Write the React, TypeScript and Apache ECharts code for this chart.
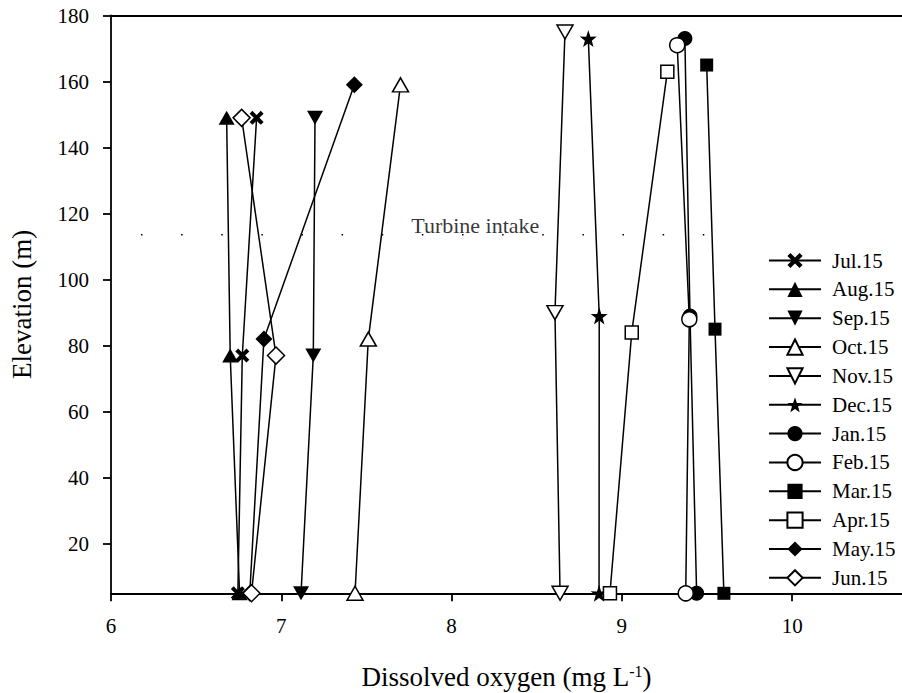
import React, { useEffect, useRef } from "react";
import * as echarts from "echarts";

// ---------- data ----------
const monthNames = ["Jul.15", "Aug.15", "Sep.15", "Oct.15", "Nov.15", "Dec.15", "Jan.15", "Feb.15", "Mar.15", "Apr.15", "May.15", "Jun.15"];
const xTickValues = [6, 7, 8, 9, 10];
const yTickValues = [20, 40, 60, 80, 100, 120, 140, 160, 180];

// [dissolved oxygen, elevation] : top, middle, bottom
const jul15 = [[6.855, 149], [6.771, 77], [6.745, 5]];
const aug15 = [[6.679, 149], [6.7, 77], [6.755, 5]];
const sep15 = [[7.198, 149], [7.188, 77], [7.116, 5]];
const oct15 = [[7.7, 159], [7.511, 82], [7.433, 5]];
const nov15 = [[8.666, 175], [8.607, 90], [8.637, 5]];
const dec15 = [[8.803, 173], [8.867, 89], [8.866, 5]];
const jan15 = [[9.37, 173], [9.4, 89], [9.439, 5]];
const feb15 = [[9.325, 171], [9.396, 88], [9.375, 5]];
const mar15 = [[9.498, 165], [9.547, 85], [9.599, 5]];
const apr15 = [[9.267, 163], [9.058, 84], [8.93, 5]];
const may15 = [[7.429, 159], [6.898, 82], [6.815, 5]];
const jun15 = [[6.767, 149], [6.969, 77], [6.825, 5]];

const turbineIntake = 113.6;
const turbineRange = [6.176, 9.711];
const turbineLabel = "Turbine intake";
const turbineLabelX = 7.766;

const X_MIN = 6;
const X_MAX = 10.645;
const Y_MIN = 5;
const Y_MAX = 180;

// ---------- styles ----------
const FONT = "'Liberation Serif', 'Times New Roman', Times, serif";
const CROSS = "path://M0,2 L2,0 L5,3 L8,0 L10,2 L7,5 L10,8 L8,10 L5,7 L2,10 L0,8 L3,5 Z";
const STAR = "path://M50,0 L61.8,35.3 L97.6,34.5 L69.1,56.2 L79.4,90.5 L50,70 L20.6,90.5 L30.9,56.2 L2.4,34.5 L38.2,35.3 Z";
const TRI_DOWN = "path://M0,0 L10,0 L5,8.66 Z";

const seriesData = [jul15, aug15, sep15, oct15, nov15, dec15, jan15, feb15, mar15, apr15, may15, jun15];
const seriesStyle: { symbol: string; size: number | number[]; filled: boolean }[] = [
  { symbol: CROSS, size: 14, filled: true },
  { symbol: "triangle", size: [16, 14], filled: true },
  { symbol: TRI_DOWN, size: [16, 14], filled: true },
  { symbol: "triangle", size: [16, 14], filled: false },
  { symbol: TRI_DOWN, size: [16, 14], filled: false },
  { symbol: STAR, size: 17, filled: true },
  { symbol: "circle", size: 15, filled: true },
  { symbol: "circle", size: 15, filled: false },
  { symbol: "rect", size: 13, filled: true },
  { symbol: "rect", size: 13, filled: false },
  { symbol: "diamond", size: 17, filled: true },
  { symbol: "diamond", size: 17, filled: false },
];

export default function App() {
  const ref = useRef<HTMLDivElement>(null);
  useEffect(() => {
    if (!ref.current) return;
    const chart = echarts.init(ref.current, undefined, { renderer: "svg" });

    const monthSeries = monthNames.map((name, i) => {
      const st = seriesStyle[i];
      return {
        type: "line",
        name,
        data: seriesData[i],
        clip: false,
        symbol: st.symbol,
        symbolSize: st.size,
        showAllSymbol: true,
        lineStyle: { color: "#000", width: 1.5 },
        itemStyle: st.filled
          ? { color: "#000", borderColor: "#000", borderWidth: 0 }
          : { color: "#fff", borderColor: "#000", borderWidth: 1.5 },
        emphasis: { disabled: true },
        z: 3,
      };
    });

    const axisLineStyle = { color: "#000", width: 1.8 };

    chart.setOption({
      animation: false,
      backgroundColor: "#fff",
      textStyle: { fontFamily: FONT, color: "#000" },
      grid: { left: 111, top: 15.5, right: 0, bottom: 99.7, containLabel: false, outerBoundsMode: "none" },
      legend: {
        orient: "vertical",
        left: 768,
        top: 250,
        padding: 0,
        itemWidth: 52,
        itemHeight: 19,
        itemGap: 7.85,
        data: monthNames,
        textStyle: { fontFamily: FONT, fontSize: 21, color: "#000", padding: [0, 0, 0, 6] },
        selectedMode: false,
      },
      xAxis: [
        {
          type: "value",
          min: X_MIN,
          max: X_MAX,
          position: "bottom",
          name: "{a|Dissolved oxygen (mg L}{s|-1}{a|)}",
          nameLocation: "middle",
          nameGap: 70,
          nameTextStyle: {
            fontFamily: FONT,
            fontSize: 27,
            color: "#000",
            rich: {
              a: { fontFamily: FONT, fontSize: 27, lineHeight: 27, color: "#000", verticalAlign: "bottom" },
              s: { fontFamily: FONT, fontSize: 16, lineHeight: 16, color: "#000", verticalAlign: "top", padding: [0, 0, 18, 0] },
            },
          },
          axisLine: { show: true, onZero: false, lineStyle: axisLineStyle },
          axisTick: { show: true, inside: false, length: 8, customValues: xTickValues, lineStyle: axisLineStyle },
          axisLabel: { customValues: xTickValues, margin: 22, fontSize: 21, fontFamily: FONT, color: "#000" },
          splitLine: { show: false },
        },
        {
          type: "value",
          min: X_MIN,
          max: X_MAX,
          position: "top",
          axisLine: { show: true, onZero: false, lineStyle: axisLineStyle },
          axisTick: { show: false },
          axisLabel: { show: false },
          splitLine: { show: false },
        },
      ],
      yAxis: {
        type: "value",
        min: Y_MIN,
        max: Y_MAX,
        name: "Elevation (m)",
        nameLocation: "middle",
        nameGap: 76,
        nameTextStyle: { fontFamily: FONT, fontSize: 27, color: "#000" },
        axisLine: { show: true, onZero: false, lineStyle: axisLineStyle },
        axisTick: { show: true, inside: false, length: 8, customValues: yTickValues, lineStyle: axisLineStyle },
        axisLabel: { customValues: yTickValues, margin: 22, fontSize: 21, fontFamily: FONT, color: "#000" },
        splitLine: { show: false },
      },
      series: [
        {
          type: "line",
          name: "turbine",
          data: [[turbineRange[0], turbineIntake], [turbineRange[1], turbineIntake]],
          symbol: "none",
          clip: false,
          lineStyle: { color: "#000", width: 1.5, type: [1.5, 38.63] },
          emphasis: { disabled: true },
          silent: true,
          z: 1,
        },
        {
          type: "scatter",
          name: "turbineLabel",
          data: [[turbineLabelX, turbineIntake]],
          symbolSize: 1,
          itemStyle: { color: "rgba(0,0,0,0)" },
          label: {
            show: true,
            formatter: turbineLabel,
            position: [0, 0],
            align: "left",
            verticalAlign: "bottom",
            offset: [0, 2],
            fontFamily: FONT,
            fontSize: 22,
            color: "#000",
          },
          silent: true,
          z: 2,
        },
        ...monthSeries,
      ],
    });
    return () => chart.dispose();
  }, []);
  return <div ref={ref} style={{ position: "fixed", left: 0, top: 0, width: 902, height: 693 }} />;
}
